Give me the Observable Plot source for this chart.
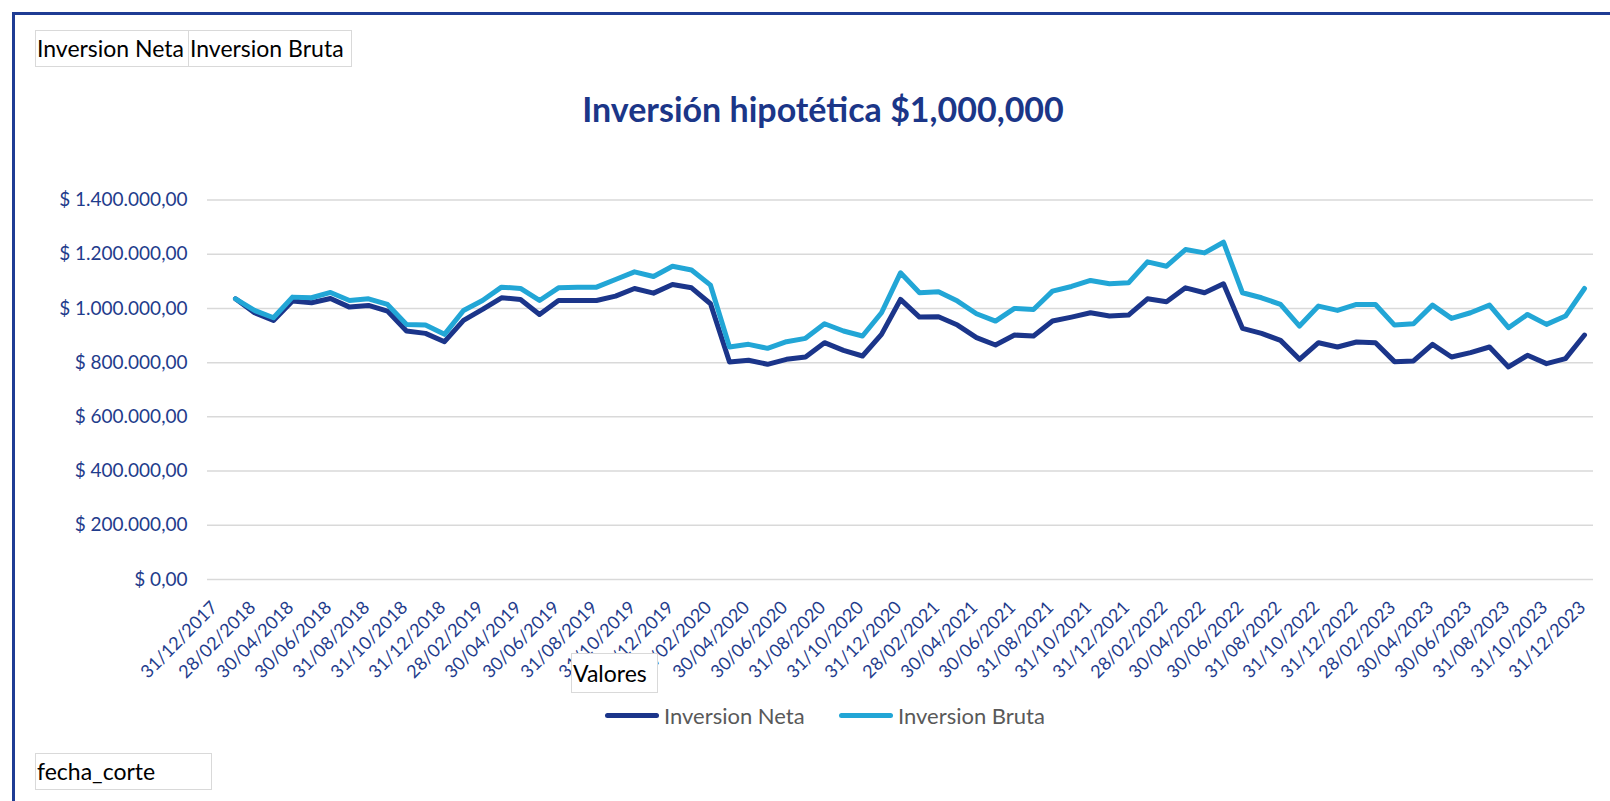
<!DOCTYPE html>
<html>
<head>
<meta charset="utf-8">
<script src="https://cdn.jsdelivr.net/npm/d3@7"></script>
<script src="https://cdn.jsdelivr.net/npm/@observablehq/plot@0.6"></script>
<style>
  html, body { margin:0; padding:0; background:#fff; width:1610px; height:801px; overflow:hidden; font-family: Lato, "Open Sans", sans-serif; }
  #frame { position:absolute; left:12px; top:12px; width:1700px; height:900px; border-left:3px solid #1f3c94; border-top:3px solid #1f3c94; box-sizing:border-box; }
  #chart { position:absolute; left:0; top:0; }
  .btn { position:absolute; box-sizing:border-box; border:1.5px solid #d9d9d9; background:#fff; color:#000; font-size:23px; line-height:1; display:flex; align-items:center; padding-left:1px; white-space:nowrap; }
  #title { position:absolute; left:0; width:1646px; top:90px; text-align:center; font-weight:bold; font-size:34px; line-height:1.1; color:#1b3688; }
  .leg { position:absolute; top:702px; display:flex; align-items:center; font-size:22px; color:#595959; white-space:nowrap; }
  .sw { display:inline-block; width:54px; height:5px; border-radius:3px; margin-right:5px; }
</style>
</head>
<body>
<div id="frame"></div>
<div id="chart"></div>
<div class="btn" style="left:35px; top:30px; width:155px; height:37px;">Inversion Neta</div>
<div class="btn" style="left:188px; top:30px; width:164px; height:37px;">Inversion Bruta</div>
<div id="title">Inversión hipotética $1,000,000</div>
<div class="btn" style="left:571px; top:653px; width:87px; height:40px;">Valores</div>
<div id="legend"></div>
<div class="btn" style="left:35px; top:753px; width:177px; height:37px;">fecha_corte</div>
<script>
const fechas = [
  "31/12/2017",
  "31/01/2018","28/02/2018","31/03/2018","30/04/2018","31/05/2018","30/06/2018","31/07/2018","31/08/2018","30/09/2018","31/10/2018","30/11/2018","31/12/2018",
  "31/01/2019","28/02/2019","31/03/2019","30/04/2019","31/05/2019","30/06/2019","31/07/2019","31/08/2019","30/09/2019","31/10/2019","30/11/2019","31/12/2019",
  "31/01/2020","29/02/2020","31/03/2020","30/04/2020","31/05/2020","30/06/2020","31/07/2020","31/08/2020","30/09/2020","31/10/2020","30/11/2020","31/12/2020",
  "31/01/2021","28/02/2021","31/03/2021","30/04/2021","31/05/2021","30/06/2021","31/07/2021","31/08/2021","30/09/2021","31/10/2021","30/11/2021","31/12/2021",
  "31/01/2022","28/02/2022","31/03/2022","30/04/2022","31/05/2022","30/06/2022","31/07/2022","31/08/2022","30/09/2022","31/10/2022","30/11/2022","31/12/2022",
  "31/01/2023","28/02/2023","31/03/2023","30/04/2023","31/05/2023","30/06/2023","31/07/2023","31/08/2023","30/09/2023","31/10/2023","30/11/2023","31/12/2023"
];

const inversionNeta = [null,
  1035600, 984000, 955800, 1027000, 1020900, 1036800, 1004900, 1011000, 990200, 916600,
  908000, 877300, 955800, 996300, 1039300, 1033100, 977900, 1029400, 1029400, 1029400,
  1045400, 1073600, 1056400, 1088300, 1076100, 1017200, 802500, 808600, 793900, 812300,
  820900, 873600, 845400, 824500, 904300, 1033100, 968100, 969300, 938600, 892000,
  865000, 901800, 898200, 953400, 968100, 984000, 971800, 975500, 1035600, 1024500,
  1076100, 1057700, 1090800, 926400, 908000, 882200, 812300, 873600, 857700, 876100,
  873600, 803700, 806100, 867500, 820900, 836800, 857700, 784000, 827000, 796300,
  814700, 901800
];

const inversionBruta = [null,
  1035600, 992600, 965600, 1041700, 1039300, 1058900, 1029400, 1035600, 1014700, 941100,
  938600, 904300, 992600, 1029400, 1078500, 1073600, 1029400, 1076100, 1078500, 1078500,
  1106700, 1135000, 1117800, 1155800, 1142000, 1085900, 857700, 867500, 852800, 877300,
  889600, 943600, 916600, 898200, 984000, 1131300, 1057700, 1061400, 1027000, 980400,
  953400, 1000000, 996300, 1063800, 1081000, 1103100, 1090800, 1094500, 1171800, 1155800,
  1217200, 1204900, 1244200, 1057700, 1039300, 1014700, 935000, 1008600, 992600, 1014700,
  1014700, 938600, 943600, 1012300, 963200, 984000, 1012300, 928800, 977900, 941100,
  971800, 1073600
];

const seriesNames = ["Inversion Neta", "Inversion Bruta"];
const seriesColors = ["#1b358a", "#22a6d6"];
const yTicks = [0, 200000, 400000, 600000, 800000, 1000000, 1200000, 1400000];
const xTicks = fechas.filter((d, i) => i % 2 === 0);

const fmt = d3.formatLocale({decimal: ",", thousands: ".", grouping: [3], currency: ["$ ", ""]}).format("$,.2f");

function rowsFor(name, values) {
  return fechas.map((f, i) => ({fecha: f, serie: name, valor: values[i]})).filter(d => d.valor != null);
}
const netaRows = rowsFor(seriesNames[0], inversionNeta);
const brutaRows = rowsFor(seriesNames[1], inversionBruta);

const axisColor = "#1f3c8c";

const chart = Plot.plot({
  width: 1610,
  height: 801,
  marginLeft: 207,
  marginRight: 17,
  marginTop: 199.5,
  marginBottom: 222,
  style: {fontFamily: "Lato, 'Open Sans', sans-serif", background: "transparent", overflow: "visible"},
  x: {type: "point", domain: fechas, padding: 0},
  y: {domain: [0, 1400000]},
  color: {domain: seriesNames, range: seriesColors},
  marks: [
    Plot.gridY(yTicks, {stroke: "#d9d9d9", strokeOpacity: 1, strokeWidth: 1.5}),
    Plot.axisY(yTicks, {tickFormat: fmt, tickSize: 0, tickPadding: 20, fontSize: 19, color: axisColor, label: null}),
    Plot.axisX(xTicks, {tickRotate: -45, tickSize: 0, tickPadding: 8, dx: -2, dy: 17, fontSize: 18, color: axisColor, label: null}),
    Plot.line(netaRows, {x: "fecha", y: "valor", stroke: "serie", strokeWidth: 5, strokeLinejoin: "round", strokeLinecap: "round"}),
    Plot.line(brutaRows, {x: "fecha", y: "valor", stroke: "serie", strokeWidth: 5, strokeLinejoin: "round", strokeLinecap: "round"})
  ]
});
document.getElementById("chart").appendChild(chart);

const legend = document.getElementById("legend");
const legendLefts = [605, 839];
seriesNames.forEach((name, i) => {
  const item = document.createElement("div");
  item.className = "leg";
  item.style.left = legendLefts[i] + "px";
  const sw = document.createElement("span");
  sw.className = "sw";
  sw.style.background = seriesColors[i];
  item.appendChild(sw);
  item.appendChild(document.createTextNode(name));
  legend.appendChild(item);
});
</script>
</body>
</html>
